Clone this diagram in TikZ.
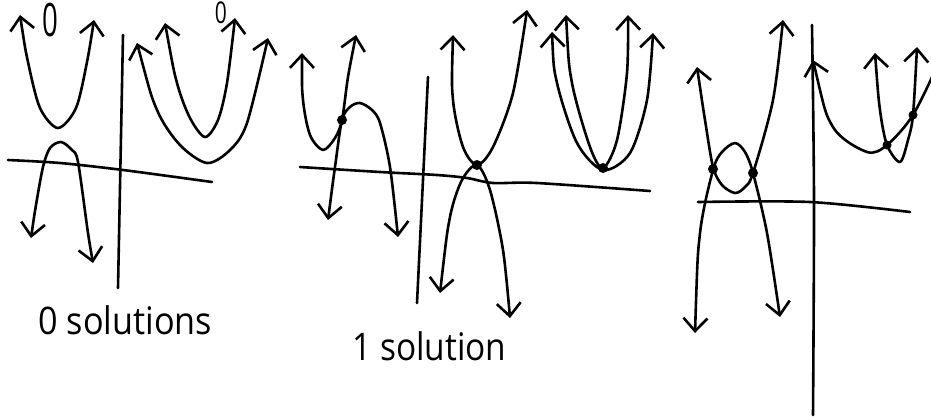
\documentclass[tikz,border=0pt]{standalone}
\usepackage{fontspec}
\setmainfont{Open Sans}
\usetikzlibrary{arrows.meta}
\begin{document}
\begin{tikzpicture}[x=1pt, y=-1pt, line width=2.6pt, line cap=round, line join=round,
    >={Straight Barb[length=13pt, width=24pt]},
    hand/.style={font=\fontsize{38}{38}\selectfont, inner sep=0pt, anchor=base west}]
    \useasboundingbox (0,0) rectangle (931,416);
    % 0 solutions
    \draw plot [smooth] coordinates {(8,160) (60,163) (123,170) (212,182)};
    \draw (123,35) -- (118,288);
    \draw [<->] plot [smooth] coordinates {(20,15) (28,62) (40,108) (58,128) (76,108) (87,62) (94,20)};
    \draw [<->] plot [smooth] coordinates {(31,238) (36,205) (43,167) (50,148) (61,142) (72,150) (78,162) (88,233) (93,263)};
    \draw [<->] plot [smooth] coordinates {(165,23) (177,83) (190,118) (205,137) (218,120) (227,83) (235,18)};
    \draw [<->] plot [smooth] coordinates {(137,43) (157,110) (180,145) (207,163) (230,150) (247,123) (268,38)};
    \node [inner sep=0pt] (zeroA) at (50,20) {\fontsize{46}{46}\selectfont\scalebox{0.6}[1]{0}};
    \node [inner sep=0pt] (zeroB) at (221,13) {\fontsize{30}{30}\selectfont\scalebox{0.7}[1]{0}};
    \node [hand] (noSol) at (37,334) {\scalebox{0.9}[1]{0 solutions}};
    % 1 solution
    \draw plot [smooth] coordinates {(300,167) (380,172) (437,175) (467,178) (493,183) (537,183) (650,191)};
    \draw (428,77) -- (417,303);
    \draw [<->] plot [smooth] coordinates {(302,53) (303,100) (310,135) (323,150) (335,138) (342,120) (348,77) (356,35)};
    \draw [<->] plot [smooth] coordinates {(328,220) (335,167) (342,120) (350,107) (360,103) (372,110) (380,123) (390,167) (398,237)};
    \draw [<->] plot [smooth] coordinates {(453,35) (453,100) (463,147) (477,165) (493,147) (513,93) (527,10)};
    \draw [<->] plot [smooth] coordinates {(440,293) (450,217) (462,180) (477,165) (490,190) (503,250) (510,318)};
    \draw [<->] plot [smooth] coordinates {(566,15) (572,83) (590,147) (603,168) (617,140) (627,73) (628,15)};
    \draw [<->] plot [smooth] coordinates {(552,32) (557,83) (577,143) (603,170) (630,153) (647,100) (653,33)};
    \fill (342,120) circle (5pt) (477,165) circle (5pt) (603,168) circle (5pt);
    \node [hand] (oneSol) at (351,360) {\scalebox{0.88}[1]{1 solution}};
    % 2 solutions
    \draw plot [smooth] coordinates {(698,202) (810,202) (910,212)};
    \draw plot [smooth] coordinates {(812,25) (814,200) (813,415)};
    \draw [<->] plot [smooth] coordinates {(697,67) (705,120) (713,167) (722,185) (735,193) (745,187) (753,173) (773,100) (783,20)};
    \draw [<->] plot [smooth] coordinates {(695,333) (700,233) (713,170) (722,152) (735,143) (745,152) (753,173) (767,233) (780,317)};
    \draw [<-] plot [smooth] coordinates {(813,60) (833,127) (867,152) (887,145) (913,115) (940,60)};
    \draw [<->] plot [smooth] coordinates {(875,53) (880,110) (887,145) (900,162) (908,140) (913,115) (917,47)};
    \fill (713,169) circle (5pt) (753,173) circle (5pt) (887,145) circle (4.5pt) (913,115) circle (4.5pt);
\end{tikzpicture}
\end{document}
